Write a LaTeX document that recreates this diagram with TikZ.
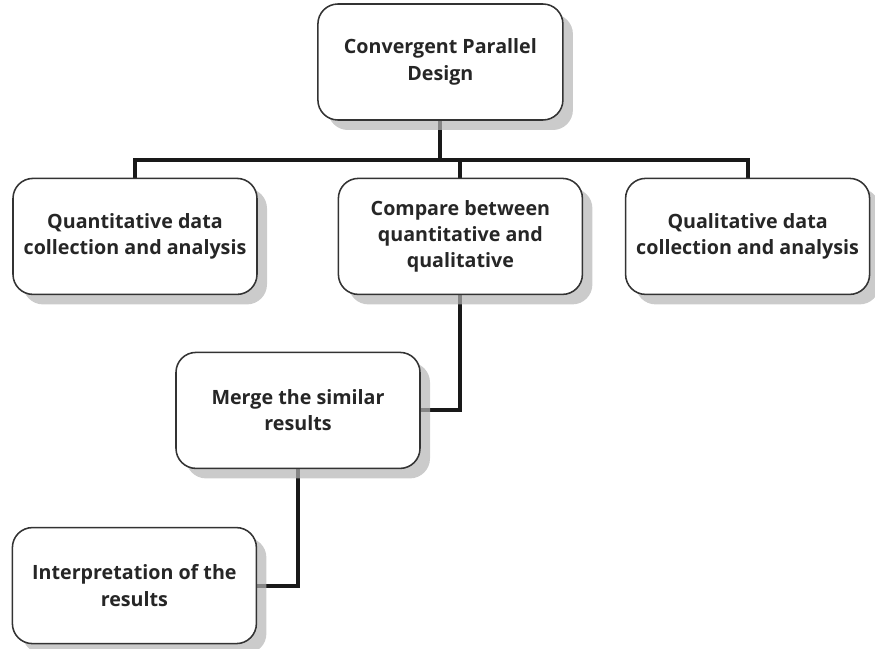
\documentclass[tikz,border=0pt]{standalone}
\usepackage{fontspec}
\setmainfont{Open Sans}
\usetikzlibrary{shadows,backgrounds}

\tikzset{
  stepbox/.style={draw=black!80, line width=1.1pt, fill=white, rounded corners=0.5cm,
    minimum width=6.1cm, minimum height=2.9cm, align=center, text=black!85,
    font=\bfseries\fontsize{14}{18.8}\selectfont,
    drop shadow={shadow xshift=0.25cm, shadow yshift=-0.25cm, fill=black!29, opacity=0.7}},
  link/.style={line width=2.8pt, black!90}
}

\begin{document}
\begin{tikzpicture}
	\useasboundingbox (0,0) rectangle (21.875,-16.225);
	\node[stepbox, minimum width=6.125cm] (design) at (11.01,-1.55) {Convergent Parallel\\Design};
	\node[stepbox] (quan) at (3.375,-5.91) {Quantitative data\\collection and analysis};
	\node[stepbox] (comp) at (11.51,-5.91) {Compare between\\quantitative and\\qualitative};
	\node[stepbox] (qual) at (18.69,-5.91) {Qualitative data\\collection and analysis};
	\node[stepbox] (merge) at (7.45,-10.26) {Merge the similar\\results};
	\node[stepbox] (interp) at (3.36,-14.64) {Interpretation of the\\results};
	\coordinate (bus) at (0,-4);
	\begin{pgfonlayer}{background}
		\draw[link] (quan.north) -- (quan.north |- bus) -| (qual.north);
		\draw[link] (design.south) -- (design.south |- bus);
		\draw[link] (comp.north) -- (comp.north |- bus);
		\draw[link] (comp.south) |- (merge.east);
		\draw[link] (merge.south) |- (interp.east);
	\end{pgfonlayer}
\end{tikzpicture}
\end{document}
